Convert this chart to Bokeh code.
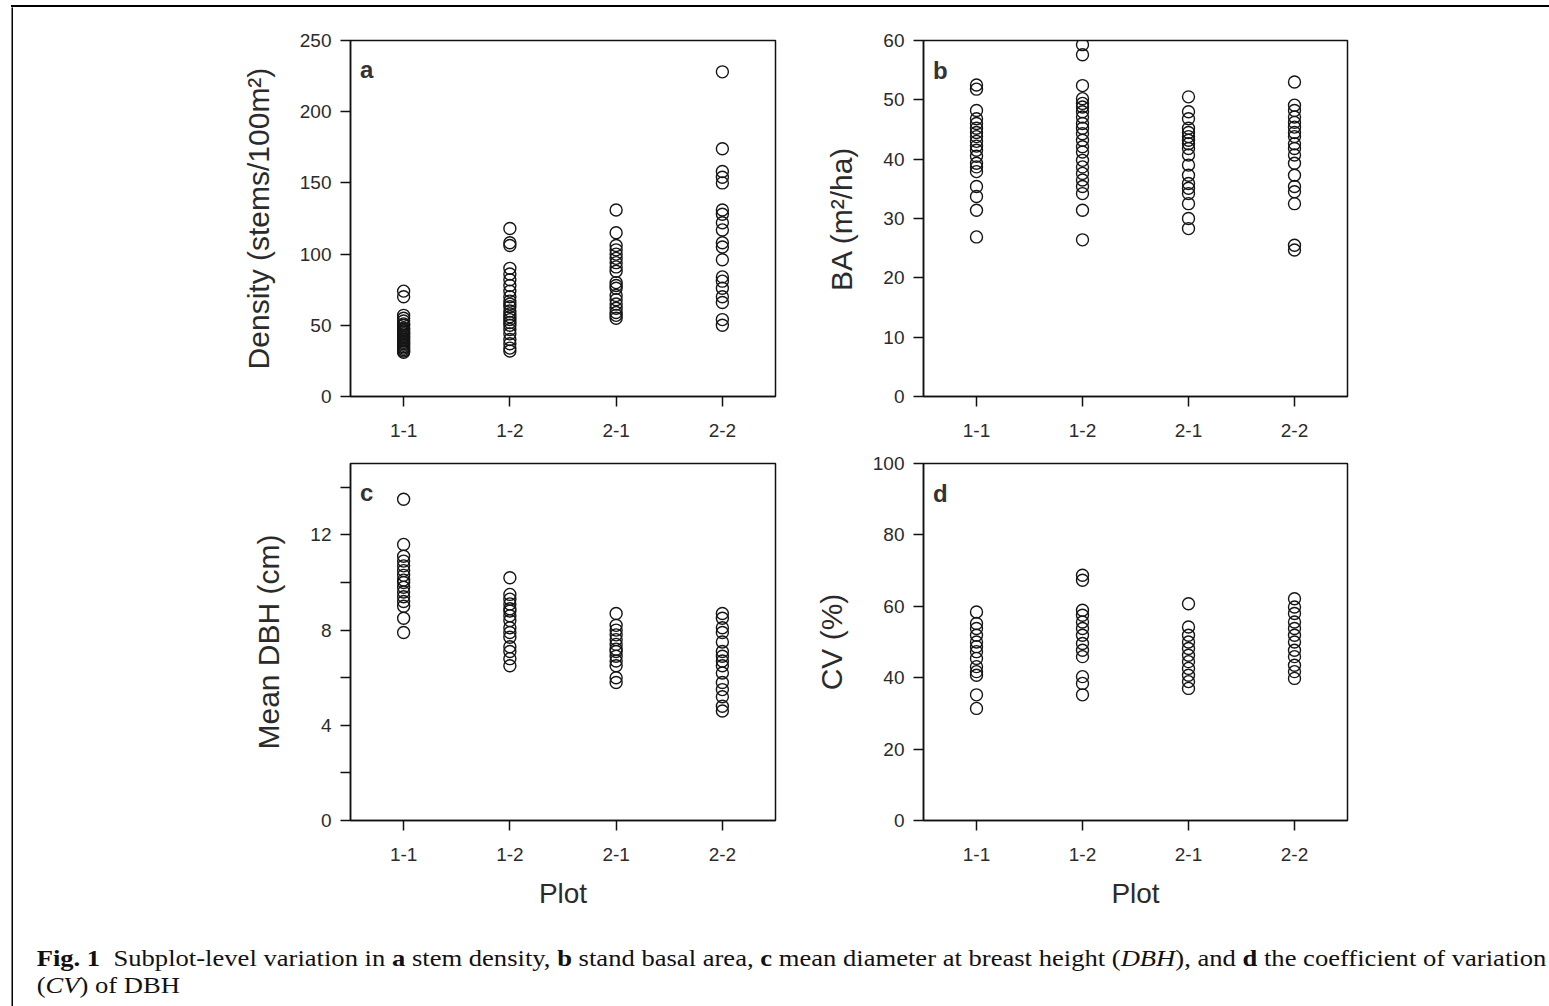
from bokeh.plotting import figure
from bokeh.layouts import column, row
from bokeh.models import FactorRange, Range1d, FixedTicker, Label, Div, Spacer
from bokeh.embed import file_html
from bokeh.resources import INLINE

plots = ["1-1", "1-2", "2-1", "2-2"]

# Panel a: stem density (stems/100m2)
density_11 = [74, 70, 57, 55, 53, 51, 50, 48, 47, 46, 45, 44, 43, 42, 41, 40, 39, 38, 37, 36, 35, 34, 33, 32, 31]
density_12 = [118, 108, 106, 90, 86, 82, 78, 74, 70, 67, 65, 63, 60, 58, 56, 54, 52, 50, 47, 44, 40, 37, 34, 32]
density_21 = [131, 115, 106, 103, 100, 97, 94, 91, 88, 80, 78, 76, 71, 68, 65, 62, 59, 57, 55]
density_22 = [228, 174, 158, 154, 150, 131, 128, 122, 117, 108, 105, 96, 84, 81, 76, 70, 66, 54, 50]

# Panel b: basal area (m2/ha)
ba_11 = [52.5, 51.8, 48.2, 46.8, 46.0, 45.2, 44.5, 43.8, 43.0, 42.2, 41.5, 40.5, 39.3, 38.7, 37.9, 35.4, 33.7, 31.4, 26.9]
ba_12 = [59.3, 57.6, 52.4, 50.2, 49.4, 48.8, 48.0, 47.1, 46.0, 45.2, 44.3, 43.2, 42.1, 41.2, 39.8, 38.7, 37.6, 36.5, 35.4, 34.2, 31.4, 26.4]
ba_21 = [50.5, 48.0, 46.8, 45.2, 44.5, 43.8, 43.2, 42.6, 41.8, 40.7, 39.0, 37.3, 35.9, 35.1, 34.2, 32.5, 30.0, 28.3]
ba_22 = [53.0, 49.1, 48.2, 47.1, 46.2, 45.4, 44.5, 43.8, 42.6, 41.8, 40.7, 39.3, 37.3, 35.4, 34.5, 32.5, 25.5, 24.7]

# Panel c: mean DBH (cm)
dbh_11 = [13.5, 11.6, 11.1, 10.9, 10.7, 10.5, 10.3, 10.1, 10.0, 9.8, 9.6, 9.4, 9.2, 9.0, 8.5, 7.9]
dbh_12 = [10.2, 9.5, 9.3, 9.1, 8.9, 8.8, 8.6, 8.4, 8.1, 7.9, 7.7, 7.3, 7.1, 6.8, 6.5]
dbh_21 = [8.7, 8.2, 8.0, 7.8, 7.6, 7.4, 7.2, 7.1, 6.9, 6.7, 6.5, 6.0, 5.8]
dbh_22 = [8.7, 8.5, 8.1, 7.9, 7.5, 7.1, 6.9, 6.7, 6.5, 6.2, 5.8, 5.5, 5.2, 4.8, 4.6]

# Panel d: CV of DBH (%)
cv_11 = [58.4, 55.2, 53.8, 51.9, 50.0, 48.7, 47.3, 45.4, 43.1, 41.7, 40.7, 35.2, 31.4]
cv_12 = [68.7, 67.3, 58.9, 57.5, 55.6, 53.8, 51.9, 49.6, 47.7, 45.9, 40.3, 38.4, 35.2]
cv_21 = [60.7, 54.2, 51.9, 50.0, 48.2, 46.3, 44.5, 42.6, 40.7, 38.9, 37.0]
cv_22 = [62.1, 59.8, 58.0, 55.6, 53.8, 51.9, 50.0, 47.7, 45.9, 43.5, 41.7, 39.8]

ticks_a = [0, 50, 100, 150, 200, 250]
ticks_b = [0, 10, 20, 30, 40, 50, 60]
ticks_c = [0, 2, 4, 6, 8, 10, 12, 14]
ticks_c_unlabeled = [2, 6, 10, 14]
ticks_d = [0, 20, 40, 60, 80, 100]

SANS = "Liberation Sans"
TXT = "#2b2b2b"


def panel(series, y_end, ticks, hidden, ylabel, letter, letter_y, xlabel,
          width, height, bl, br, bt, bb):
    p = figure(x_range=FactorRange(factors=plots), y_range=Range1d(0, y_end),
               width=width, height=height, toolbar_location=None,
               output_backend="svg", min_border_left=bl, min_border_right=br,
               min_border_top=bt, min_border_bottom=bb)
    xs, ys = [], []
    for cat, vals in zip(plots, series):
        xs += [cat] * len(vals)
        ys += vals
    p.scatter(xs, ys, marker="circle", size=12, fill_color=None,
              line_color="#151515", line_width=1.4)
    p.xgrid.grid_line_color = None
    p.ygrid.grid_line_color = None
    p.outline_line_color = "#111111"
    p.outline_line_width = 1.5
    p.background_fill_color = "white"
    p.border_fill_color = "white"

    ya = p.yaxis[0]
    ya.ticker = FixedTicker(ticks=ticks)
    ya.major_label_overrides = {t: "" for t in hidden}
    ya.minor_tick_line_color = None
    ya.major_tick_out = 10
    ya.major_tick_in = 0
    ya.major_label_standoff = 9
    ya.axis_line_width = 1.5
    ya.axis_line_color = "#111111"
    ya.major_tick_line_width = 1.5
    ya.major_tick_line_color = "#111111"
    ya.major_label_text_font = SANS
    ya.major_label_text_font_size = "19px"
    ya.major_label_text_color = TXT
    ya.axis_label = ylabel
    ya.axis_label_text_font = SANS
    ya.axis_label_text_font_size = "30px"
    ya.axis_label_text_font_style = "normal"
    ya.axis_label_text_color = TXT
    ya.axis_label_standoff = 22

    xa = p.xaxis[0]
    xa.major_tick_out = 10
    xa.major_tick_in = 0
    xa.major_label_standoff = 17
    xa.axis_line_width = 1.5
    xa.axis_line_color = "#111111"
    xa.major_tick_line_width = 1.5
    xa.major_tick_line_color = "#111111"
    xa.major_label_text_font = SANS
    xa.major_label_text_font_size = "19px"
    xa.major_label_text_color = TXT
    if xlabel:
        xa.axis_label = xlabel
        xa.axis_label_text_font = SANS
        xa.axis_label_text_font_size = "28px"
        xa.axis_label_text_font_style = "normal"
        xa.axis_label_text_color = TXT
        xa.axis_label_standoff = 14

    p.add_layout(Label(x=0.09, y=letter_y, text=letter, text_font=SANS,
                       text_font_size="24px", text_font_style="bold",
                       text_color="#333333", text_baseline="alphabetic"))
    return p


def bar(w, h):
    b = figure(width=w, height=h, toolbar_location=None, output_backend="svg",
               x_axis_location=None, y_axis_location=None, min_border=0,
               background_fill_color="#000000", border_fill_color="#000000",
               outline_line_color=None)
    b.xgrid.grid_line_color = None
    b.ygrid.grid_line_color = None
    return b


fa = panel([density_11, density_12, density_21, density_22], 250, ticks_a, [],
           "Density (stems/100m\u00b2)", "a", 229.6, None,
           777, 443, 337, 15, 33, 54)
fb = panel([ba_11, ba_12, ba_21, ba_22], 60, ticks_b, [],
           "BA (m\u00b2/ha)", "b", 55.0, None,
           610, 443, 133, 53, 33, 54)
fc = panel([dbh_11, dbh_12, dbh_21, dbh_22], 15, ticks_c, ticks_c_unlabeled,
           "Mean DBH (cm)", "c", 13.78, "Plot",
           777, 475, 337, 15, 13, 105)
fd = panel([cv_11, cv_12, cv_21, cv_22], 100, ticks_d, [],
           "CV (%)", "d", 91.5, "Plot",
           610, 475, 133, 53, 13, 105)

caption_html = (
    '<div style="font-family:\'Liberation Serif\',serif;font-size:22.5px;'
    'line-height:27px;white-space:nowrap;margin:0;padding:20px 0 0 20px;color:#111;'
    'transform:scaleX(1.182);transform-origin:0 0;">'
    '<b>Fig. 1</b>&nbsp; Subplot-level variation in <b>a</b> stem density, <b>b</b> stand basal area, '
    '<b>c</b> mean diameter at breast height (<i>DBH</i>), and <b>d</b> the coefficient of variation<br>'
    '(<i>CV</i>) of DBH</div>'
)
caption = Div(text=caption_html, width=1536, height=81, margin=0)

top_bar = Div(text="", width=1538, height=2, margin=0,
              styles={"background-color": "#000000"})
left_bar = bar(2, 999)

content = column(row(fa, fb), row(fc, fd), caption)
layout = column(Spacer(height=5, margin=0),
                row(Spacer(width=11, margin=0), column(top_bar, row(left_bar, content))))

open("out.html", "w").write(file_html(layout, INLINE))
